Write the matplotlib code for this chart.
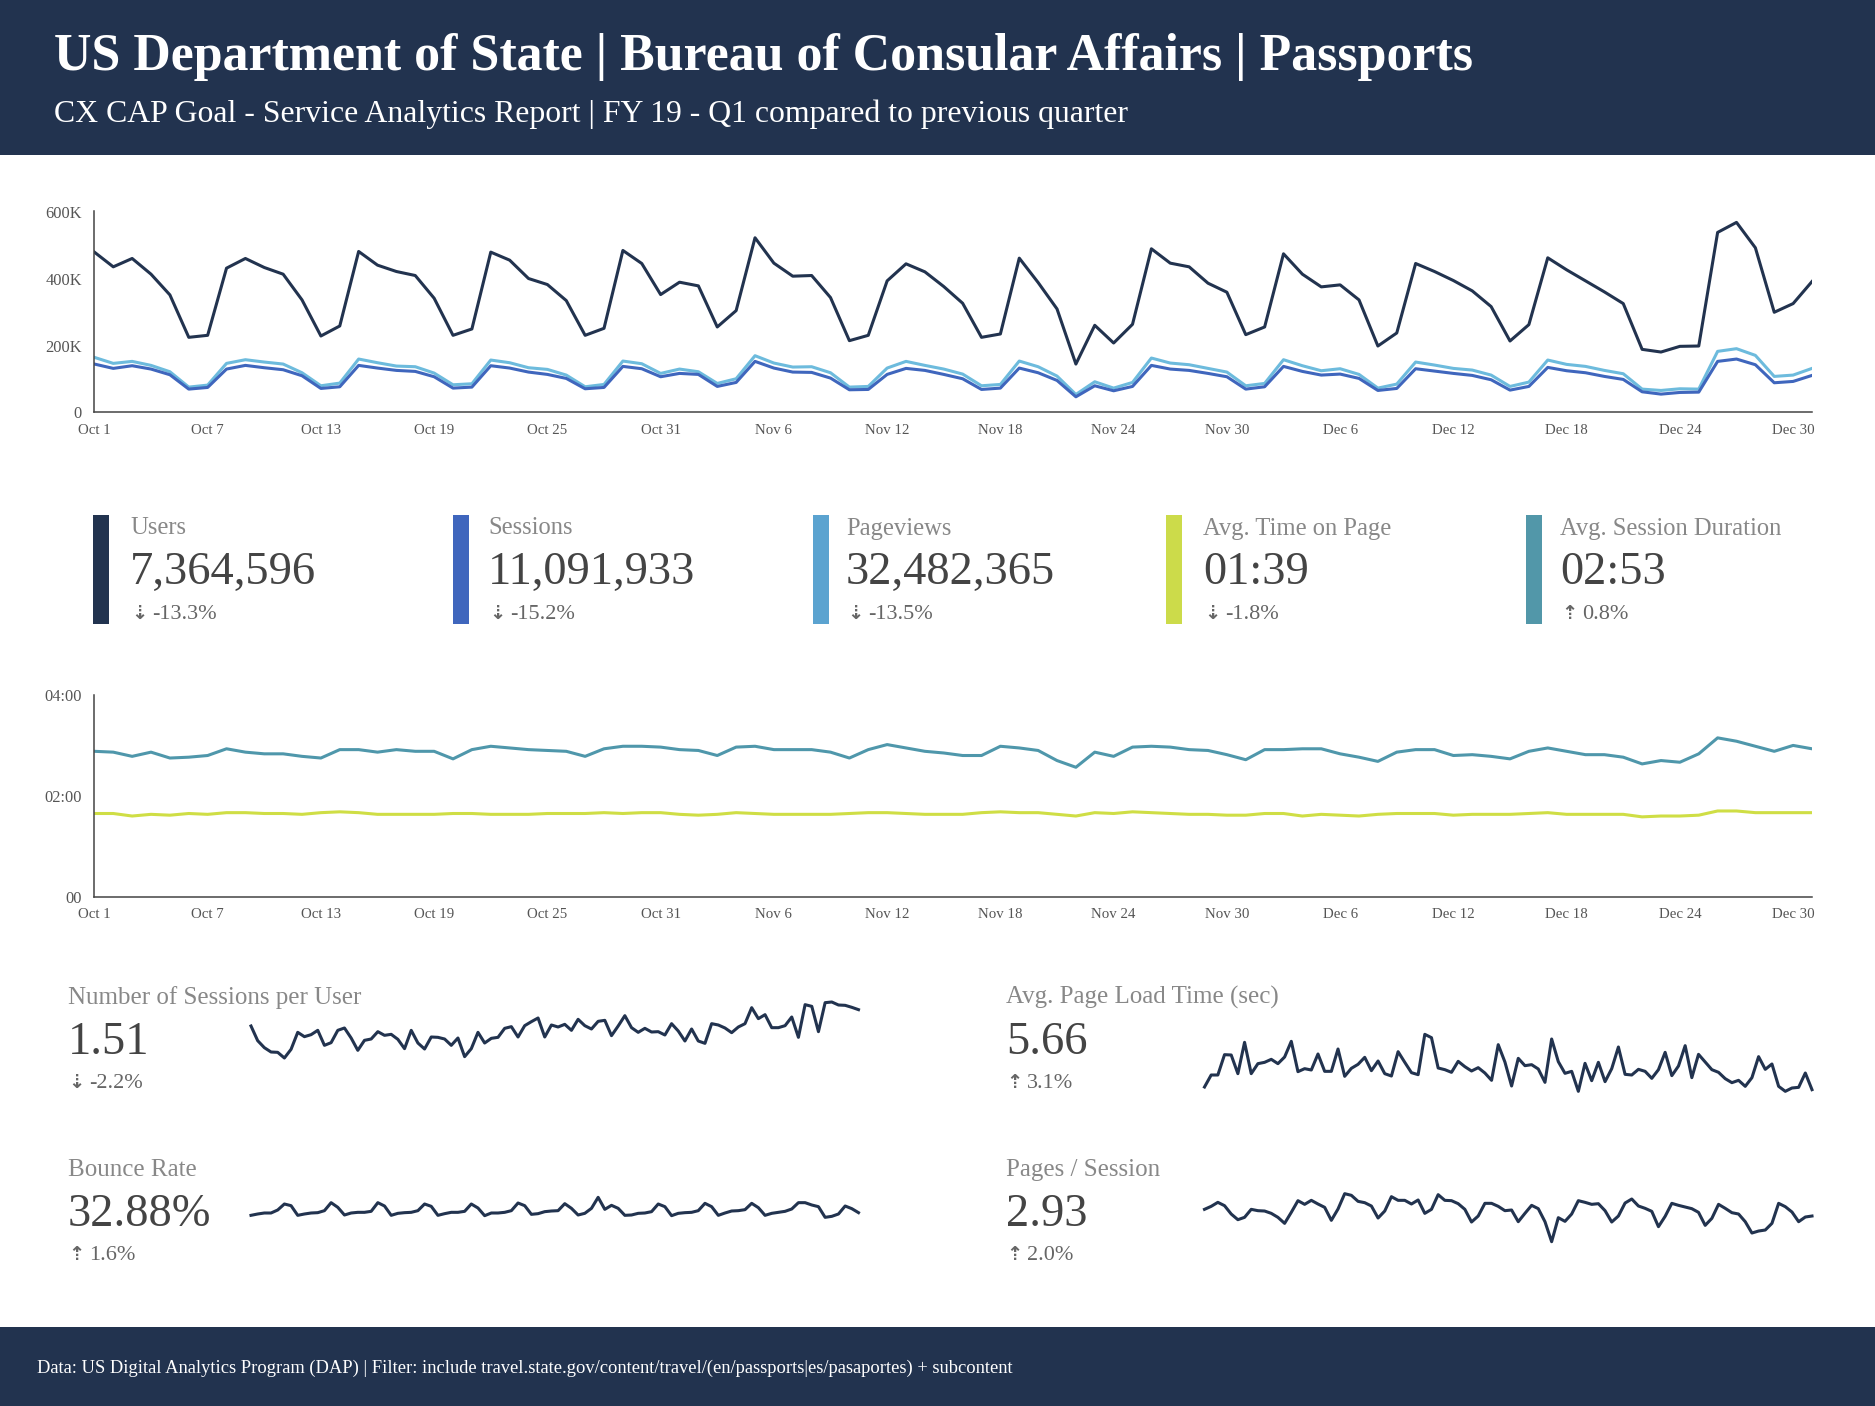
import matplotlib
matplotlib.use("Agg")
import matplotlib.pyplot as plt
from matplotlib.patches import Rectangle

W, H = 1875, 1406
NAVY = "#22334F"
SERIF = "Liberation Serif"

# top chart, thousands per day, Oct 1 - Dec 31
users = [480,436,461,414,352,225,231,432,461,434,414,337,229,259,482,441,422,410,342,231,250,480,456,401,383,335,231,252,485,446,353,390,379,256,305,523,447,408,410,344,215,231,394,445,421,377,
         327,225,235,462,389,310,145,261,208,264,490,447,436,387,360,233,256,475,414,376,382,337,199,238,446,422,395,364,317,214,263,463,427,394,361,326,189,181,198,199,539,569,493,300,326,392]
sessions = [145,132,140,130,113,70,75,130,141,134,128,110,72,77,141,133,126,123,107,73,76,140,133,121,114,102,71,75,138,131,107,117,114,78,90,153,133,121,120,103,68,69,114,132,126,114,
            101,69,73,133,119,96,47,80,65,78,141,130,126,117,107,70,77,138,123,112,115,102,66,72,131,124,117,111,98,67,78,135,125,119,108,99,62,55,60,61,153,160,143,89,93,111]
pageviews = [165,147,153,141,122,76,82,147,158,151,145,119,80,88,160,149,139,137,118,83,86,157,149,134,129,112,77,84,154,146,117,130,122,87,101,170,148,136,137,119,76,78,133,153,141,130,
             115,80,84,154,137,109,54,92,73,90,163,148,143,132,121,80,87,158,140,125,131,114,73,85,151,142,132,127,112,78,91,157,144,138,126,116,70,66,71,70,183,191,171,108,112,132]

# middle chart, seconds
session_duration = [173,172,167,172,165,166,168,176,172,170,170,167,165,175,175,172,175,173,173,164,175,179,177,175,174,173,167,176,179,179,178,175,174,168,178,179,175,175,175,172,165,175,181,177,173,171,
                    168,168,179,177,174,162,154,172,167,178,179,178,175,174,169,163,175,175,176,176,170,166,161,172,175,175,168,169,167,164,173,177,173,169,169,166,158,162,160,170,189,185,179,173,180,176]
time_on_page = [99,99,96,98,97,99,98,100,100,99,99,98,100,101,100,98,98,98,98,99,99,98,98,98,99,99,99,100,99,100,100,98,97,98,100,99,98,98,98,98,99,100,100,99,98,98,
                98,100,101,100,100,98,96,100,99,101,100,99,98,98,97,97,99,99,96,98,97,96,98,99,99,99,97,98,98,98,99,100,98,98,98,98,95,96,96,97,102,102,100,100,100,100]

# small charts
sessions_per_user = [1.564,1.476,1.434,1.408,1.406,1.372,1.424,1.526,1.5,1.512,1.538,1.448,1.464,1.538,1.552,1.492,1.418,1.478,1.486,1.53,1.508,1.514,1.484,1.428,1.538,1.462,1.426,1.498,1.496,1.486,1.448,1.492,1.38,1.428,1.526,1.462,1.49,1.496,1.55,1.56,1.498,1.566,1.59,1.612,1.498,1.57,
                     1.558,1.574,1.538,1.604,1.566,1.546,1.592,1.598,1.506,1.564,1.626,1.554,1.526,1.55,1.528,1.53,1.51,1.578,1.534,1.474,1.546,1.474,1.46,1.578,1.57,1.552,1.524,1.558,1.578,1.674,1.608,1.632,1.554,1.554,1.566,1.618,1.496,1.692,1.682,1.53,1.704,1.708,1.69,1.688,1.676,1.662]
page_load = [4.84,5.2,5.2,5.81,5.8,5.24,6.18,5.24,5.54,5.58,5.67,5.54,5.74,6.21,5.3,5.39,5.35,5.83,5.31,5.31,5.98,5.16,5.4,5.52,5.73,5.33,5.62,5.24,5.17,5.9,5.58,5.27,5.21,6.42,6.32,5.41,5.36,5.28,5.61,5.45,5.32,5.42,5.26,5.04,6.11,5.59,
             4.87,5.7,5.48,5.51,5.38,4.98,6.28,5.6,5.25,5.31,4.71,5.55,5.03,5.58,5.0,5.39,6.04,5.22,5.2,5.37,5.31,5.1,5.36,5.88,5.18,5.47,6.08,5.12,5.82,5.59,5.36,5.28,5.09,4.97,5.04,4.86,5.12,5.75,5.37,5.53,4.86,4.71,4.81,4.83,5.26,4.76]
bounce_rate = [32.04,32.28,32.46,32.46,33.0,34.08,33.78,32.04,32.28,32.46,32.52,32.88,34.32,33.48,32.1,32.46,32.58,32.58,32.76,34.32,33.72,32.04,32.4,32.52,32.58,32.88,34.08,33.66,32.04,32.34,32.58,32.58,32.76,34.08,33.36,31.98,32.46,32.46,32.58,32.88,34.26,33.78,32.22,32.34,32.7,32.82,
               32.88,34.14,33.3,32.1,32.4,33.3,35.28,33.12,33.84,33.3,32.04,32.1,32.4,32.46,32.7,34.08,33.6,31.98,32.4,32.52,32.58,32.88,34.2,33.6,32.04,32.46,32.82,32.88,33.06,34.2,33.42,32.04,32.4,32.58,32.76,33.18,34.32,34.32,33.9,33.6,31.68,31.86,32.28,33.72,33.24,32.52]
pages_per_session = [2.972,3.026,3.098,3.038,2.888,2.786,2.828,2.972,2.948,2.942,2.9,2.828,2.72,2.918,3.128,3.062,3.134,3.068,3.008,2.774,2.978,3.254,3.224,3.116,3.092,3.032,2.816,2.942,3.2,3.134,3.134,3.068,3.14,2.9,2.972,3.236,3.134,3.128,3.074,2.972,2.744,2.852,3.08,3.08,3.026,2.948,
                     2.96,2.75,2.9,3.044,2.984,2.75,2.39,2.822,2.756,2.888,3.128,3.098,3.062,3.074,2.948,2.744,2.852,3.086,3.158,3.032,2.99,2.936,2.66,2.846,3.08,3.044,3.014,2.984,2.918,2.684,2.81,3.062,2.99,2.912,2.888,2.75,2.546,2.582,2.6,2.72,3.08,3.02,2.924,2.75,2.834,2.852]

date_labels = ["Oct 1","Oct 7","Oct 13","Oct 19","Oct 25","Oct 31","Nov 6","Nov 12","Nov 18","Nov 24","Nov 30","Dec 6","Dec 12","Dec 18","Dec 24","Dec 30"]

kpi_names = ["Users","Sessions","Pageviews","Avg. Time on Page","Avg. Session Duration"]
kpi_values = ["7,364,596","11,091,933","32,482,365","01:39","02:53"]
kpi_deltas = ["-13.3%","-15.2%","-13.5%","-1.8%","0.8%"]
kpi_colors = [NAVY,"#3F66BD","#5BA3D0","#CCDB4A","#5297A9"]
kpi_bar_x = [93,453,813,1166,1526]
kpi_text_x = [130,488,846,1203,1560]

days = list(range(len(users)))
ticks = list(range(0, 91, 6))

fig = plt.figure(figsize=(W / 100, H / 100), dpi=100, facecolor="white")


def px_text(x, y, s, size, color="#444444", **kw):
    kw.setdefault("family", SERIF)
    fig.text(x / W, 1 - y / H, s, fontsize=size, color=color, va="baseline", **kw)


def px_axes(x0, y0, x1, y1):
    return fig.add_axes([x0 / W, 1 - y1 / H, (x1 - x0) / W, (y1 - y0) / H])


def px_rect(x0, y0, x1, y1, color):
    fig.add_artist(Rectangle((x0 / W, 1 - y1 / H), (x1 - x0) / W, (y1 - y0) / H,
                             transform=fig.transFigure, color=color, lw=0))


def line_chart(ax, ymax, yticks, ylabels):
    ax.set_xlim(0, 91)
    ax.set_ylim(0, ymax)
    ax.set_xticks(ticks)
    ax.set_xticklabels(date_labels, family=SERIF, fontsize=10.7, color="#555555")
    ax.set_yticks(yticks)
    ax.set_yticklabels(ylabels, family=SERIF, fontsize=11.8, color="#555555")
    ax.tick_params(axis="both", length=0)
    ax.tick_params(axis="x", pad=8)
    ax.tick_params(axis="y", pad=9)
    for side in ["top", "right"]:
        ax.spines[side].set_visible(False)
    for side in ["left", "bottom"]:
        ax.spines[side].set_color("#444444")
        ax.spines[side].set_linewidth(1.1)


def arrow(x, y, delta):
    glyph = "\u21e3" if delta.startswith("-") else "\u21e1"
    px_text(x, y, glyph, 14, color="#666666", family="DejaVu Sans", weight="bold", ha="center")


# header and footer
px_rect(0, 0, W, 155, NAVY)
px_rect(0, 1327, W, H, NAVY)
px_text(54, 70, "US Department of State | Bureau of Consular Affairs | Passports", 37.4, color="white", weight="bold")
px_text(54, 122, "CX CAP Goal - Service Analytics Report | FY 19 - Q1 compared to previous quarter", 22.9, color="white")
px_text(37, 1373, "Data: US Digital Analytics Program (DAP) | Filter: include travel.state.gov/content/travel/(en/passports|es/pasaportes) + subcontent",
        13.3, color="white")

# top chart
ax = px_axes(94.4, 210.7, 1812, 412.5)
ax.plot(days, users, color=NAVY, lw=2.2)
ax.plot(days, pageviews, color="#6DBBDD", lw=2.2)
ax.plot(days, sessions, color="#3F66BD", lw=2.2)
line_chart(ax, 604, [0, 200, 400, 600], ["0", "200K", "400K", "600K"])

# kpi row
for i in range(5):
    px_rect(kpi_bar_x[i], 515, kpi_bar_x[i] + 16, 624, kpi_colors[i])
    tx = kpi_text_x[i]
    px_text(tx, 534.5, kpi_names[i], 17.7, color="#888888")
    px_text(tx, 584, kpi_values[i], 33.5)
    arrow(tx + 9, 619, kpi_deltas[i])
    px_text(tx + 22, 619, kpi_deltas[i], 16, color="#666666")

# middle chart
ax = px_axes(94.4, 695, 1812, 896.7)
ax.plot(days, session_duration, color="#4F97AB", lw=2.2)
ax.plot(days, time_on_page, color="#CFDE45", lw=2.2)
line_chart(ax, 240, [0, 120, 240], ["00", "02:00", "04:00"])

# small multiples
small = [
    ("Number of Sessions per User", "1.51", "-2.2%", sessions_per_user, 68, 251, 1000, 1060, 1.36, 1.72, 1004),
    ("Avg. Page Load Time (sec)", "5.66", "3.1%", page_load, 1006, 1204.5, 1025, 1095, 4.6, 6.7, 1004),
    ("Bounce Rate", "32.88%", "1.6%", bounce_rate, 68, 251, 1190, 1230, 29.4, 36.6, 1176),
    ("Pages / Session", "2.93", "2.0%", pages_per_session, 1006, 1204.5, 1190, 1246.7, 2.30, 3.32, 1176),
]
for name, value, delta, series, tx, sx, y0, y1, lo, hi, by in small:
    px_text(tx, by, name, 18, color="#888888")
    px_text(tx, by + 49.5, value, 33.5)
    arrow(tx + 8, by + 83.5, delta)
    px_text(tx + 21, by + 83.5, delta, 16, color="#666666")
    ax = px_axes(sx, y0, sx + 607.5, y1)
    ax.plot(days, series, color=NAVY, lw=2.2, clip_on=False)
    ax.set_xlim(0, 91)
    ax.set_ylim(lo, hi)
    ax.axis("off")

fig.savefig("out.png", dpi=100)
